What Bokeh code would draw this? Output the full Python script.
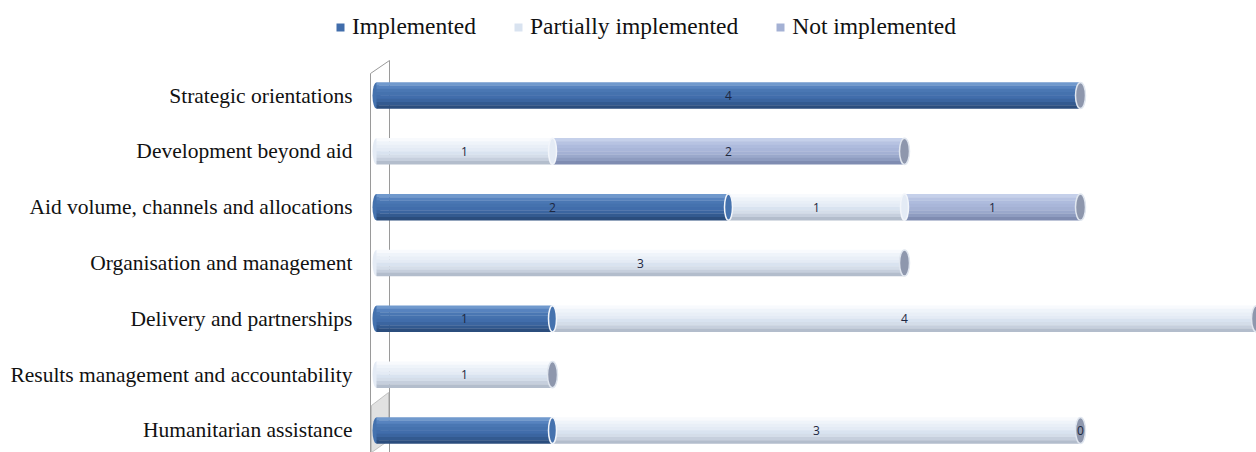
import numpy as np
from bokeh.plotting import figure
from bokeh.models import Range1d, Legend, LegendItem, FixedTicker, ColumnDataSource
from bokeh.embed import file_html
from bokeh.resources import INLINE
from bokeh.core.properties import value

# ---------------- data ----------------
categories = ["Strategic orientations", "Development beyond aid",
              "Aid volume, channels and allocations", "Organisation and management",
              "Delivery and partnerships", "Results management and accountability",
              "Humanitarian assistance"]
series_names = ["Implemented", "Partially implemented", "Not implemented"]
implemented = [4, 0, 2, 0, 1, 0, 1]
partial = [0, 1, 1, 3, 4, 1, 3]
not_implemented = [0, 2, 1, 0, 0, 0, 0]
implemented_labels = ["4", "", "2", "", "1", "", ""]
partial_labels = ["", "1", "1", "3", "4", "1", "3"]
not_implemented_labels = ["", "2", "1", "", "", "", "0"]

# ---------------- style ----------------
W, H = 1256, 452
FRAME_LEFT, FRAME_TOP = 320, 0
PX_X = 176.0       # pixels per unit on x
PX_Y = 55.83       # pixels per category on y
grads = [
    ["#7099cd", "#5783bf", "#4a77b3", "#4572ae", "#416dab", "#3b65a0", "#335a90", "#2b4d7d"],
    ["#f8fafd", "#eff4fa", "#e9eff7", "#e4ebf5", "#d9e3f0", "#d4dde9", "#c6cfdd", "#b3bdcc"],
    ["#c5d0ea", "#b7c3e2", "#aebbdd", "#a9b6d9", "#a4b1d4", "#9aa8cb", "#8e9cc0", "#7f8cb1"],
]
mid_colors = [g[3] for g in grads]
BAR_H = 0.47

x_start = -(376 - FRAME_LEFT) / PX_X
x_end = 5.0
y_top = -(95 - FRAME_TOP) / PX_Y
y_bottom = 6 + (H - 430) / PX_Y

p = figure(width=W, height=H, output_backend="svg", toolbar_location=None,
           x_range=Range1d(x_start, x_end), y_range=Range1d(y_bottom, y_top),
           min_border_left=FRAME_LEFT, min_border_top=FRAME_TOP,
           min_border_right=0, min_border_bottom=0)
p.outline_line_color = None
p.grid.visible = False
p.xaxis.visible = False
p.background_fill_color = "white"
p.border_fill_color = "white"

def px2x(px):
    return x_start + (px - FRAME_LEFT) / PX_X

def px2y(py):
    return y_top + (py - FRAME_TOP) / PX_Y

# ---- left "wall" decoration ----
p.line(x=[px2x(389), px2x(389)], y=[px2y(60), px2y(452)], line_color="#9a9a9a", line_width=1)
p.line(x=[px2x(370), px2x(389)], y=[px2y(73), px2y(60)], line_color="#9a9a9a", line_width=1)
p.line(x=[px2x(370), px2x(370)], y=[px2y(73), px2y(452)], line_color="#9a9a9a", line_width=1)
p.patch(x=[px2x(371), px2x(388), px2x(388), px2x(371)],
        y=[px2y(405), px2y(392), px2y(440), px2y(452)],
        fill_color="#d9d9d9", fill_alpha=0.8, line_color="#b5b5b5", line_width=0.8)

# ---------------- bars ----------------
ypos = np.arange(len(categories), dtype=float)
series = [np.array(implemented, float), np.array(partial, float), np.array(not_implemented, float)]
labels = [implemented_labels, partial_labels, not_implemented_labels]
lefts = []
acc = np.zeros(len(categories))
for s in series:
    lefts.append(acc.copy())
    acc = acc + s
totals = acc

# left rounded start
first_col = []
for i in range(len(categories)):
    for k, s in enumerate(series):
        if s[i] > 0:
            first_col.append(mid_colors[k])
            break
p.ellipse(x=np.zeros(len(categories)), y=ypos, width=8 / PX_X, height=BAR_H,
          fill_color=first_col, line_color=None)

legend_renderers = []
NS = len(grads[0])
for k, s in enumerate(series):
    mask = s > 0
    yk, lk, rk = ypos[mask], lefts[k][mask], (lefts[k] + s)[mask]
    rmain = None
    for j in range(NS):
        off = -BAR_H / 2 + (j + 0.5) * BAR_H / NS
        r = p.hbar(y=yk + off, left=lk, right=rk, height=BAR_H / NS * 1.08,
                   fill_color=grads[k][j], line_color=None)
        if j == 4:
            rmain = r
    legend_renderers.append(rmain)

# internal boundary curves
for k, s in enumerate(series):
    ends = lefts[k] + s
    mask = (s > 0) & (ends < totals)
    p.ellipse(x=ends[mask], y=ypos[mask], width=8 / PX_X, height=BAR_H,
              fill_color=mid_colors[k], line_color="#f2f5fa", line_width=1.5)

# end caps
p.ellipse(x=totals, y=ypos, width=10 / PX_X, height=BAR_H,
          fill_color="#8e97ad", line_color="#e0e6ef", line_width=1.5)

# value labels
for k, s in enumerate(series):
    centers = lefts[k] + s / 2
    src = ColumnDataSource(dict(x=centers, y=ypos, t=labels[k]))
    p.text(x="x", y="y", text="t", source=src, text_align="center", text_baseline="middle",
           text_font=value("Open Sans"), text_font_size="12px", text_color="#1c2740")

# ---------------- axis ----------------
p.yaxis.ticker = FixedTicker(ticks=list(ypos))
p.yaxis.major_label_overrides = {int(i): c for i, c in zip(ypos, categories)}
p.yaxis.axis_line_color = None
p.yaxis.major_tick_line_color = None
p.yaxis.minor_tick_line_color = None
p.yaxis.major_tick_out = 0
p.yaxis.major_tick_in = 0
p.yaxis.major_label_standoff = -(352 - FRAME_LEFT)
p.yaxis.major_label_text_font = "Liberation Serif"
p.yaxis.major_label_text_font_size = "21.5px"
p.yaxis.major_label_text_color = "#111111"

# ---------------- legend ----------------
legend = Legend(items=[LegendItem(label=n, renderers=[r]) for n, r in zip(series_names, legend_renderers)],
                orientation="horizontal", location=(335 - FRAME_LEFT, H - 40),
                glyph_width=10, glyph_height=10, label_standoff=7, spacing=37,
                padding=0, margin=0, border_line_color=None, background_fill_alpha=0,
                label_text_font="Liberation Serif", label_text_font_size="23.5px",
                label_text_color="#111111")
p.add_layout(legend, "center")

open("out.html", "w").write(file_html(p, INLINE))
